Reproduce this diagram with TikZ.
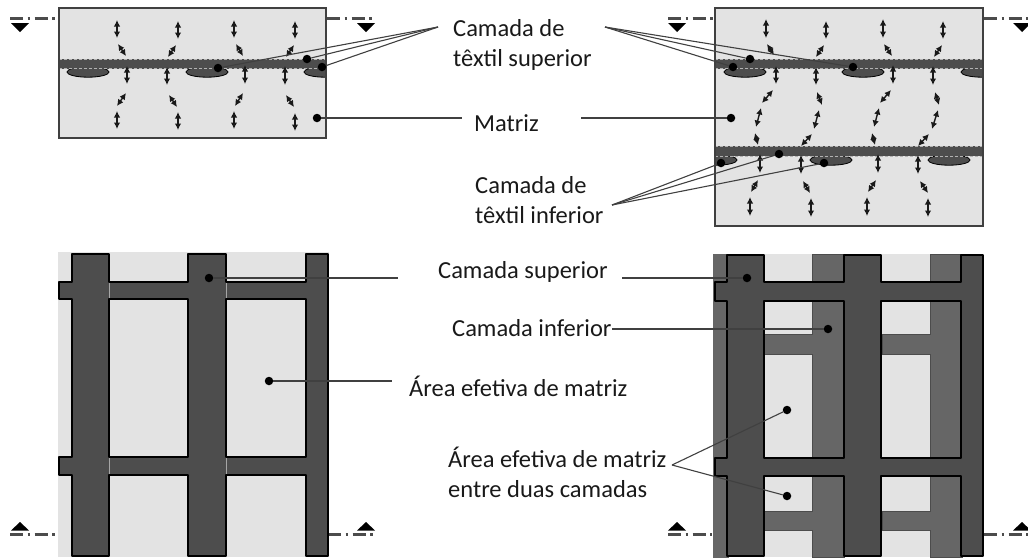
\documentclass[tikz,border=0pt]{standalone}
\usepackage{fontspec}
\setmainfont{Carlito}
\usetikzlibrary{calc}
\usetikzlibrary{arrows.meta}
\definecolor{matrixgray}{HTML}{E3E3E3}
\definecolor{topgray}{HTML}{4D4D4D}
\definecolor{lowgray}{HTML}{666666}
\tikzset{
dot/.style={circle,fill=black,inner sep=0pt,minimum size=8.5pt},
label/.style={inner sep=0pt,align=left,anchor=west,font=\fontsize{24.5}{30}\selectfont,text=black!90},
leader/.style={line width=1.1pt,draw=black!75},
panel/.style={draw=black!75,line width=1.2pt},
bandedge/.style={draw=black!30,line width=0.5pt,dash pattern=on 3pt off 2pt},
flow/.style={{Latex[length=6.5pt,width=6.5pt]}-{Latex[length=6.5pt,width=6.5pt]},line width=1.4pt,black!90},
section/.style={line width=2.2pt,draw=black!70,dash pattern=on 13pt off 4.5pt on 2.5pt off 4.5pt}
}
\begin{document}
\begin{tikzpicture}[x=1pt,y=-1pt]
\useasboundingbox (0,0) rectangle (1028,558);
% section marks
\foreach \xa/\xb in {10/58,327/375,668/714,984/1028} {
\draw[section] (\xa,18.5) -- (\xb,18.5);
}
\foreach \xa/\xb in {10/58,328/375,668/712,984/1028} {
\draw[section] (\xa,534.5) -- (\xb,534.5);
}
\foreach \x in {20,366,677,1022} {
\fill (\x-9,23) -- (\x+9,23) -- (\x,32) -- cycle;
\fill (\x-9,530.5) -- (\x+9,530.5) -- (\x,522) -- cycle;
}
% cross sections
\fill[matrixgray] (59,8) rectangle (326,138);
\fill[matrixgray] (715,8) rectangle (983,226);
\begin{scope}
\clip (59,8) rectangle (326,138);
\foreach \x in {88,207,325} {
\draw[fill=topgray,line width=0.8pt] (\x,72) ellipse (21 and 5.2);
}
\end{scope}
\begin{scope}
\clip (715,8) rectangle (983,226);
\foreach \x in {745,863,982} {
\draw[fill=topgray,line width=0.8pt] (\x,72) ellipse (21 and 5.2);
}
\foreach \x in {716,831,949} {
\draw[fill=topgray,line width=0.8pt] (\x,160) ellipse (21 and 5.2);
}
\end{scope}
\fill[topgray] (58,59) rectangle (326,68.5);
\fill[topgray] (715,59) rectangle (983,68.5);
\fill[topgray] (715,146) rectangle (983,156);
\foreach \xa/\xb/\y in {59/326/59,59/326/68.5,715/983/59,715/983/68.5,715/983/146,715/983/156} {
\draw[bandedge] (\xa,\y) -- (\xb,\y);
}
\draw[panel] (59,8) rectangle (326,138);
\draw[panel] (715,8) rectangle (983,226);
\foreach \xa/\ya/\xb/\yb in {117/20/117/38,178/21/178/39,234/20/234/38,295/21/295/39,
118/44/126/56,176/45/168/57,236/44/243/56,294/45/286/57,
127/66/127/84,167/67/167/85,245/65/245/84,285/66/285/85,
126/93/117/106,169/95/177/107,243/93/235/106,286/95/294/107,
117/111/117/129,178/112/178/130,234/111/234/129,295/113/295/131,
766/19/766/38,826/21/826/39,883/19/883/38,943/21/943/39,
767/44/774/55,824/45/816/57,884/44/892/56,942/45/934/57,
776/66/776/84,816/67/816/85,893/65/893/84,933/66/933/85,
773/90/762/103,817/92/822/105,891/90/880/103,935/92/939/105,
761/108/756/127,819/110/814/129,879/108/874/127,938/110/932/129,
755/133/758/145,812/134/801/146,872/133/875/145,929/134/918/146,
760/154/760/173,801/155/801/174,878/154/878/173,918/155/918/174,
758/180/751/192,803/181/810/193,876/180/868/192,920/181/928/193,
750/197/750/216,811/198/811/217,867/197/867/216,928/198/928/217} {
\draw[flow] (\xa,\ya) -- (\xb,\yb);
}
% layer plans
\fill[matrixgray] (58,252) rectangle (329,557);
\draw[fill=topgray,even odd rule,line width=1.3pt,line join=round]
(72,254) -- (109,254) -- (109,282) -- (188,282) -- (188,254) -- (226,254) -- (226,282) -- (306,282) -- (306,254) -- (328,254)
-- (328,556) -- (306,556) -- (306,475) -- (226,475) -- (226,556) -- (188,556) -- (188,475) -- (109,475) -- (109,556) -- (72,556)
-- (72,475) -- (59,475) -- (59,457) -- (72,457) -- (72,299) -- (59,299) -- (59,282) -- (72,282) -- cycle
(109,299) rectangle (188,457) (226,299) rectangle (306,457);
\foreach \x/\ya/\yb in {109/283/298,226/283/298,109/458/474,226/458/474} {
\draw[black!35,line width=0.6pt] (\x,\ya) -- (\x,\yb);
}
\fill[matrixgray] (713,254) rectangle (983,557);
\foreach \x in {0,118} {
\draw[fill=lowgray,draw=black!70,line width=1pt]
(812+\x,254) -- (844+\x,254) -- (844+\x,557) -- (812+\x,557) -- (812+\x,530) -- (764+\x,530) -- (764+\x,511) -- (812+\x,511)
-- (812+\x,354) -- (764+\x,354) -- (764+\x,334) -- (812+\x,334) -- cycle;
}
\draw[fill=lowgray,draw=black!60,line width=0.8pt] (713,254) rectangle (728,557);
\draw[fill=topgray,even odd rule,line width=1.3pt,line join=round]
(727,255) -- (764,255) -- (764,282) -- (844,282) -- (844,255) -- (881,255) -- (881,282) -- (961,282) -- (961,255) -- (983,255)
-- (983,556) -- (961,556) -- (961,476) -- (881,476) -- (881,556) -- (844,556) -- (844,476) -- (764,476) -- (764,556) -- (727,556)
-- (727,476) -- (715,476) -- (715,458) -- (727,458) -- (727,301) -- (715,301) -- (715,282) -- (727,282) -- cycle
(764,301) rectangle (844,458) (881,301) rectangle (961,458);
% labels
\node (tsup) at (453,44.5) [label] {Camada de\\têxtil superior};
\node (tmat) at (474,123) [label] {Matriz};
\node (tinf) at (475,200.5) [label] {Camada de\\têxtil inferior};
\node (tcs) at (438,272) [label] {Camada superior};
\node (tci) at (452,328) [label] {Camada inferior};
\node (tarea) at (409,386) [label] {Área efetiva de matriz};
\node (tentre) at (448,472) [label] {Área efetiva de matriz\\entre duas camadas};
% dots
\foreach \n/\x/\y in {a/218/68,b/307/59,c/322/67,d/733/67,e/750/59,f/853/67,m/317/118,n/731/118,
g/721/163,h/779/154,i/824/163,p/209/278,q/747/278,r/828/329,s/269/381,t/787/410,u/787/496} {
\node (\n) at (\x,\y) [dot] {};
}
% free ends of the leaders
\coordinate (supl) at (438,27);
\coordinate (supr) at (605,27);
\coordinate (infr) at (612,205);
\coordinate (matl) at (462,118);
\coordinate (matr) at (581,118);
\coordinate (csl) at (398,278);
\coordinate (csr) at (622,278);
\coordinate (cir) at (612,329);
\coordinate (areal) at (392,381);
\coordinate (entre) at (672,465);
\foreach \a/\b in {a/supl,b/supl,c/supl,d/supr,e/supr,f/supr,g/infr,h/infr,i/infr,m/matl,n/matr,p/csl,q/csr,r/cir,s/areal,t/entre,u/entre} {
\draw[leader] (\a) -- (\b);
}
\end{tikzpicture}
\end{document}
